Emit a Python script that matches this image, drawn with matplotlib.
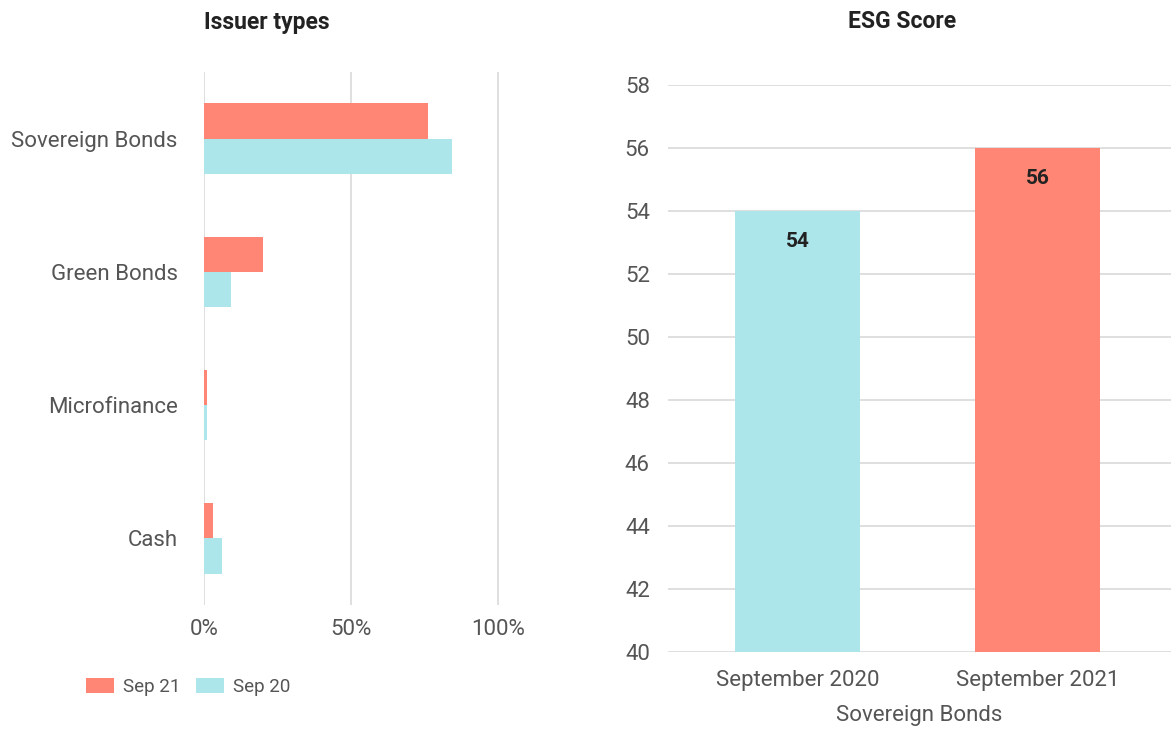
import matplotlib.pyplot as plt
import numpy as np

plt.rcParams['font.family'] = ['Roboto', 'DejaVu Sans']

# issuer types (percent)
categories = ['Sovereign Bonds', 'Green Bonds', 'Microfinance', 'Cash']
sep21 = [76.2, 20.0, 1.0, 3.2]
sep20 = [84.4, 9.2, 1.0, 6.2]
pct_ticks = [0, 50, 100]

# ESG score
periods = ['September 2020', 'September 2021']
esg = [54, 56]

red = '#FF8675'
cyan = '#ACE6EB'
grid_col = '#D9D9D9'
txt = '#555555'

fig = plt.figure(figsize=(11.71, 7.31), dpi=100)

# left: horizontal grouped bars
ax1 = fig.add_axes([0.1742, 0.1724, 0.289, 0.7291])
y = np.arange(len(categories))
h = 0.264
ax1.barh(y - h / 2, sep21, height=h, color=red, label='Sep 21', zorder=2)
ax1.barh(y + h / 2, sep20, height=h, color=cyan, label='Sep 20', zorder=2)
ax1.set_ylim(3.5, -0.5)
ax1.set_xlim(0, 115)
ax1.set_xticks(pct_ticks)
ax1.set_xticklabels([f'{t}%' for t in pct_ticks])
ax1.set_yticks(y)
ax1.set_yticklabels(categories)
ax1.grid(axis='x', color=grid_col, linewidth=1.2, zorder=0)
for s in ax1.spines.values():
    s.set_visible(False)
ax1.tick_params(length=0, labelsize=16, colors=txt, pad=10)
ax1.tick_params(axis='y', pad=19)
fig.text(267 / 1171, 1 - 22 / 731, 'Issuer types', ha='center', va='center',
         fontsize=16.5, fontweight='bold', color='#222222')
fig.legend(loc='center left', bbox_to_anchor=(69 / 1171, 1 - 687 / 731),
           ncol=2, frameon=False, fontsize=13.5, handlelength=1.5, handleheight=0.8,
           columnspacing=0.8, handletextpad=0.5, labelcolor=txt)

# right: vertical bars
ax2 = fig.add_axes([0.5704, 0.108, 0.4296, 0.7757])
x = np.arange(len(periods))
bars = ax2.bar(x, esg, width=0.52, color=[cyan, red], zorder=2)
ax2.set_ylim(40, 58)
ax2.set_xlim(-0.54, 1.555)
ax2.set_yticks(range(40, 59, 2))
ax2.set_xticks(x)
ax2.set_xticklabels(periods)
ax2.grid(axis='y', color=grid_col, linewidth=1.2, zorder=0)
ax2.set_axisbelow(True)
for s in ax2.spines.values():
    s.set_visible(False)
ax2.tick_params(length=0, labelsize=16, colors=txt)
ax2.tick_params(axis='y', pad=13)
ax2.tick_params(axis='x', pad=13)
ax2.set_xlabel('Sovereign Bonds', fontsize=16, color=txt, labelpad=10)
for b, v in zip(bars, esg):
    ax2.annotate(str(v), (b.get_x() + b.get_width() / 2, v), xytext=(0, -22),
                 textcoords='offset points', ha='center', va='center',
                 fontsize=15, fontweight='bold', color='#222222')
fig.text(902 / 1171, 1 - 22 / 731, 'ESG Score', ha='center', va='center',
         fontsize=16.5, fontweight='bold', color='#222222')

fig.savefig('out.png', dpi=100)
